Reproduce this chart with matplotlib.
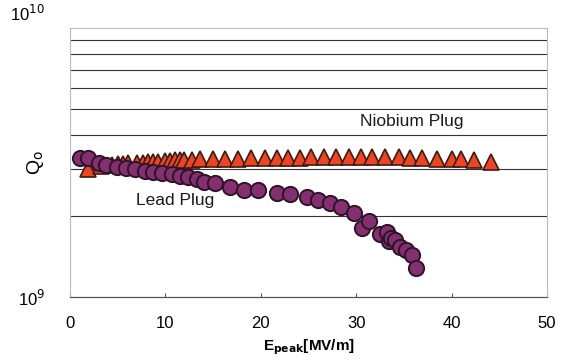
import matplotlib
matplotlib.use("Agg")
import matplotlib.pyplot as plt
from matplotlib.ticker import FixedLocator, NullFormatter
from matplotlib.transforms import ScaledTranslation

plt.rcParams['font.family'] = ['Liberation Sans', 'DejaVu Sans']

# Niobium plug: Q0 vs peak field
nb_e = [1.9, 3.2, 4.4, 5.0, 5.6, 6.1, 7.0, 7.7, 8.2, 8.7, 9.2, 10.0, 10.5, 11.0,
        11.5, 12.0, 12.8, 13.6, 15.0, 16.2, 17.6, 19.0, 20.4, 21.7, 22.9, 24.1,
        25.3, 26.6, 27.9, 29.2, 30.5, 31.7, 33.0, 34.5, 35.6, 36.9, 38.5, 40.0,
        41.0, 42.3, 44.1]
nb_q = [3.00, 3.08, 3.10, 3.12, 3.12, 3.14, 3.15, 3.16, 3.17, 3.18, 3.19, 3.20,
        3.21, 3.22, 3.22, 3.23, 3.24, 3.25, 3.26, 3.27, 3.27, 3.28, 3.29, 3.30,
        3.30, 3.30, 3.31, 3.31, 3.31, 3.32, 3.31, 3.32, 3.32, 3.32, 3.30, 3.30,
        3.27, 3.25, 3.26, 3.22, 3.18]

# Lead plug
pb_e = [1.05, 1.9, 3.0, 3.8, 4.9, 5.9, 6.8, 7.9, 8.7, 9.6, 10.7, 11.5, 12.4, 13.3,
        14.0, 15.2, 16.8, 18.2, 19.7, 21.7, 23.1, 24.8, 26.0, 27.3, 28.4, 29.8,
        30.6, 31.3, 32.5, 33.2, 33.4, 33.6, 34.1, 34.6, 35.2, 35.8, 36.3]
pb_q = [3.28, 3.30, 3.16, 3.09, 3.05, 3.01, 2.98, 2.95, 2.92, 2.88, 2.86, 2.82,
        2.79, 2.74, 2.68, 2.66, 2.57, 2.51, 2.50, 2.43, 2.41, 2.36, 2.29, 2.23,
        2.16, 2.05, 1.80, 1.91, 1.72, 1.75, 1.61, 1.66, 1.63, 1.54, 1.50, 1.43,
        1.28]

x_ticks = [0, 10, 20, 30, 40, 50]
grid_q = [2, 3, 4, 5, 6, 7, 8, 9]

fig = plt.figure(figsize=(5.71, 3.6), dpi=100)
ax = fig.add_axes([0.1226, 0.175, 0.8354, 0.747])

ax.set_yscale('log')
ax.set_xlim(0, 50)
ax.set_ylim(1e9, 1e10)

# horizontal grid lines at the minor decades
for g in grid_q:
    ax.axhline(g * 1e9, color='#333333', lw=0.8, zorder=1)

ax.plot(nb_e, [q * 1e9 for q in nb_q], linestyle='none', marker='^',
        markersize=12, markerfacecolor='#ef4422', markeredgecolor='#3a1c14',
        markeredgewidth=1.2, zorder=3)
ax.plot(pb_e, [q * 1e9 for q in pb_q], linestyle='none', marker='o',
        markersize=11, markerfacecolor='#852e70', markeredgecolor='#2a1626',
        markeredgewidth=1.4, zorder=4)

ax.text(35.8, 4.5e9, 'Niobium Plug', fontsize=12.5, ha='center', va='center',
        color='#1a1a1a')
ax.text(11.0, 2.29e9, 'Lead Plug', fontsize=12.5, ha='center', va='center',
        color='#1a1a1a')

ax.set_xticks(x_ticks)
ax.tick_params(axis='x', direction='in', length=3, width=0.8, color='#555555',
               labelsize=12, pad=14)
ax.yaxis.set_major_locator(FixedLocator([1e9, 1e10]))
ax.set_yticklabels(['10$^9$', '10$^{10}$'])
ax.yaxis.set_minor_formatter(NullFormatter())
ax.tick_params(axis='y', which='both', length=0, labelsize=12, pad=18)
ax.get_yticklabels()[1].set_transform(
    ax.get_yticklabels()[1].get_transform()
    + ScaledTranslation(0, 11 / 72, fig.dpi_scale_trans))

ax.set_ylabel('Q$_{\\rm o}$', fontsize=14)
ax.yaxis.set_label_coords(-0.05, 0.5)
ax.set_xlabel('E$_{\\mathbf{peak}}$[MV/m]', fontsize=11, fontweight='bold',
              labelpad=4)

for side in ['left', 'right', 'top']:
    ax.spines[side].set_color('#bbbbbb')
    ax.spines[side].set_linewidth(0.8)
ax.spines['bottom'].set_color('#555555')
ax.spines['bottom'].set_linewidth(0.9)

plt.savefig('out.png', dpi=100)
